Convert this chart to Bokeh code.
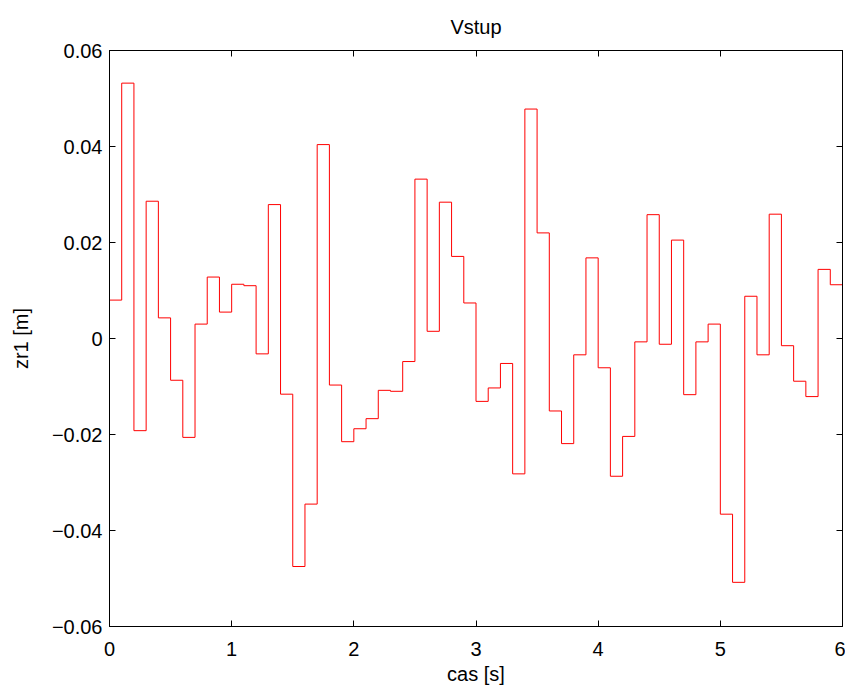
from bokeh.plotting import figure
from bokeh.models import LinearAxis, FixedTicker, Range1d
from bokeh.embed import file_html
from bokeh.resources import INLINE

# time grid (s) and sampled step values (m)
t = [0.0, 0.1, 0.2, 0.3, 0.4, 0.5, 0.6, 0.7, 0.8, 0.9,
     1.0, 1.1, 1.2, 1.3, 1.4, 1.5, 1.6, 1.7, 1.8, 1.9,
     2.0, 2.1, 2.2, 2.3, 2.4, 2.5, 2.6, 2.7, 2.8, 2.9,
     3.0, 3.1, 3.2, 3.3, 3.4, 3.5, 3.6, 3.7, 3.8, 3.9,
     4.0, 4.1, 4.2, 4.3, 4.4, 4.5, 4.6, 4.7, 4.8, 4.9,
     5.0, 5.1, 5.2, 5.3, 5.4, 5.5, 5.6, 5.7, 5.8, 5.9, 6.0]
zr1 = [0.0080, 0.0532, -0.0192, 0.0286, 0.0043, -0.0087, -0.0206, 0.0030, 0.0128, 0.0055,
       0.0113, 0.0110, -0.0032, 0.0279, -0.0116, -0.0475, -0.0345, 0.0404, -0.0097, -0.0215,
       -0.0188, -0.0167, -0.0108, -0.0110, -0.0048, 0.0332, 0.0015, 0.0284, 0.0171, 0.0074,
       -0.0131, -0.0103, -0.0052, -0.0282, 0.0478, 0.0220, -0.0151, -0.0219, -0.0034, 0.0168,
       -0.0061, -0.0287, -0.0204, -0.0007, 0.0258, -0.0012, 0.0205, -0.0117, -0.0007, 0.0030,
       -0.0366, -0.0508, 0.0088, -0.0034, 0.0259, -0.0015, -0.0089, -0.0121, 0.0144, 0.0112, 0.0190]

x_ticks = [0, 1, 2, 3, 4, 5, 6]
x_labels = ["0", "1", "2", "3", "4", "5", "6"]
y_ticks = [-0.06, -0.04, -0.02, 0, 0.02, 0.04, 0.06]
y_labels = ["\u22120.06", "\u22120.04", "\u22120.02", "0", "0.02", "0.04", "0.06"]

FONT = "Liberation Sans"
FS = "20px"

p = figure(width=845, height=688, output_backend="svg", toolbar_location=None,
           x_range=Range1d(0, 6), y_range=Range1d(-0.06, 0.06),
           min_border_left=109, min_border_right=3, min_border_top=48, min_border_bottom=62,
           title="Vstup")

p.step(t, zr1, mode="after", line_color="#ff0000", line_width=1)

p.xgrid.visible = False
p.ygrid.visible = False
p.outline_line_color = "black"
p.outline_line_width = 1
p.background_fill_color = "white"
p.border_fill_color = "white"

p.title.align = "center"
p.title.text_font = FONT
p.title.text_font_size = FS
p.title.text_font_style = "normal"
p.title.text_color = "black"
p.title.standoff = 26

bottom = p.xaxis[0]
left = p.yaxis[0]
bottom.axis_label = "cas [s]"
left.axis_label = "zr1 [m]"
bottom.ticker = FixedTicker(ticks=x_ticks)
left.ticker = FixedTicker(ticks=y_ticks)
bottom.major_label_overrides = {v: s for v, s in zip(x_ticks, x_labels)}
left.major_label_overrides = {v: s for v, s in zip(y_ticks, y_labels)}

top = LinearAxis(ticker=FixedTicker(ticks=x_ticks))
right = LinearAxis(ticker=FixedTicker(ticks=y_ticks))
top.major_label_overrides = {v: "" for v in x_ticks}
right.major_label_overrides = {v: "" for v in y_ticks}
p.add_layout(top, "above")
p.add_layout(right, "right")

for ax in [bottom, left, top, right]:
    ax.axis_line_color = "black"
    ax.axis_line_width = 1
    ax.major_tick_in = 6
    ax.major_tick_out = 0
    ax.major_tick_line_color = "black"
    ax.minor_tick_line_color = None
    ax.major_label_text_font = FONT
    ax.major_label_text_font_size = FS
    ax.major_label_text_color = "black"
    ax.axis_label_text_font = FONT
    ax.axis_label_text_font_size = FS
    ax.axis_label_text_font_style = "normal"
    ax.axis_label_text_color = "black"

for ax in [top, right]:
    ax.major_label_standoff = 0

bottom.major_label_standoff = 15
bottom.axis_label_standoff = 4
left.major_label_standoff = 7
left.axis_label_standoff = 17

open("out.html", "w").write(file_html(p, INLINE))
